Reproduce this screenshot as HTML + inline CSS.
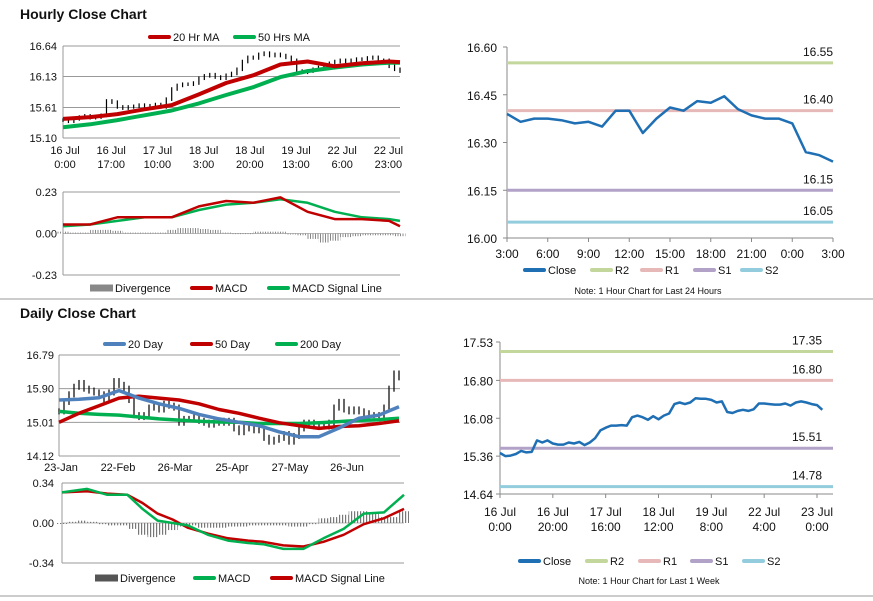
<!DOCTYPE html>
<html><head><meta charset="utf-8"><style>
body{margin:0;background:#fff;}
svg{display:block;font-family:"Liberation Sans",Arial,sans-serif;}
</style></head><body>
<svg id="c" width="873" height="601" viewBox="0 0 873 601" xmlns="http://www.w3.org/2000/svg">
<defs>
<pattern id="stripe" width="2.5" height="4" patternUnits="userSpaceOnUse"><rect x="0" y="0" width="1" height="4" fill="#888"/></pattern>
<pattern id="stripe2" width="3" height="4" patternUnits="userSpaceOnUse"><rect x="0" y="0" width="1.2" height="4" fill="#777"/></pattern>
</defs>
</svg>
<script>
// ---- Hourly close chart (left top) ----
const hCloseHours = [0,2,4,6,8,10,12,14,16,18,20,22,24,26,28,30,32,34,36,38,40,42,44,46,48,50,52,54,56,58,60,62,64,66,68,70,72,74,76,78,80,82,84,86,88,90,92,94,96,98,100,102,104,106,108,110,112,114,116,118,120,122,124];
const hClose = [15.40,15.38,15.42,15.45,15.47,15.44,15.45,15.48,15.72,15.70,15.62,15.60,15.62,15.63,15.65,15.62,15.64,15.66,15.62,15.75,15.92,15.98,16.00,16.00,16.02,16.10,16.14,16.16,16.12,16.10,16.15,16.18,16.25,16.38,16.45,16.44,16.50,16.52,16.48,16.50,16.48,16.45,16.40,16.22,16.20,16.22,16.25,16.28,16.27,16.35,16.38,16.40,16.38,16.40,16.42,16.42,16.44,16.45,16.40,16.40,16.30,16.25,16.22];
const hMaHours = [0,10,20,30,40,50,60,70,80,90,100,110,120,124];
const hMa20 = [15.42,15.45,15.50,15.58,15.65,15.83,16.02,16.15,16.33,16.38,16.30,16.35,16.38,16.37];
const hMa50 = [15.28,15.33,15.40,15.48,15.56,15.68,15.82,15.95,16.12,16.22,16.28,16.33,16.36,16.36];
const hPriceTicks = [15.10,15.61,16.13,16.64];
const hXLabels = [["16 Jul","0:00"],["16 Jul","17:00"],["17 Jul","10:00"],["18 Jul","3:00"],["18 Jul","20:00"],["19 Jul","13:00"],["22 Jul","6:00"],["22 Jul","23:00"]];
const hXLabelHours = [0,17,34,51,68,85,102,119];
const hMacd = [0.05,0.05,0.09,0.09,0.09,0.15,0.18,0.17,0.20,0.12,0.08,0.08,0.07,0.04];
const hSignal = [0.04,0.05,0.07,0.09,0.09,0.13,0.16,0.17,0.19,0.17,0.12,0.09,0.08,0.07];
const hDivHours = [0,4,8,12,16,20,24,28,32,36,40,44,48,52,56,60,64,68,72,76,80,84,88,92,96,100,104,108,112,116,120,124];
const hDiv = [0.01,0.005,0.005,0.02,0.02,0.015,0.005,0.005,0.005,0.005,0.02,0.03,0.03,0.025,0.02,0.005,0.002,0.002,0.01,0.01,0.01,0,-0.01,-0.03,-0.05,-0.04,-0.02,-0.015,-0.01,-0.01,-0.01,-0.015];
const hMacdTicks = [-0.23,0.00,0.23];

// ---- Daily close chart (left bottom) ----
const dClose = [15.30,15.55,15.75,15.95,16.05,15.90,15.85,15.80,15.75,15.60,15.80,16.10,16.00,15.90,15.60,15.20,15.15,15.20,15.40,15.45,15.35,15.50,15.45,15.40,15.00,15.10,15.10,15.15,15.05,15.00,14.95,15.00,15.05,15.00,15.05,14.85,14.75,14.90,14.85,14.80,14.80,14.60,14.50,14.55,14.60,14.70,14.50,14.65,14.85,15.00,15.00,14.90,14.95,14.90,15.00,15.40,15.55,15.35,15.30,15.35,15.30,15.25,15.20,15.20,15.20,15.40,15.90,16.30,16.20];
const dMaDays = [0,4,8,12,16,20,24,28,32,36,40,44,48,52,56,60,64,68];
const dMa20 = [15.60,15.62,15.66,15.85,15.65,15.50,15.38,15.22,15.10,15.01,14.92,14.76,14.63,14.63,14.86,15.12,15.20,15.42];
const dMa50 = [15.01,15.25,15.45,15.65,15.70,15.65,15.60,15.50,15.35,15.25,15.12,15.00,14.92,14.85,14.90,14.92,14.98,15.05];
const dMa200 = [15.30,15.25,15.22,15.20,15.15,15.10,15.07,15.04,15.02,15.01,14.98,14.98,14.98,15.00,15.03,15.06,15.08,15.12];
const dPriceTicks = [14.12,15.01,15.90,16.79];
const dXLabels = ["23-Jan","22-Feb","26-Mar","25-Apr","27-May","26-Jun"];
const dXLabelDays = [0,11.4,22.8,34.2,45.8,57.2];
const dMacdDays = [0,5,9,13,16,19,22,25,29,33,37,40,44,48,52,56,60,64,68];
const dMacd = [0.26,0.29,0.24,0.24,0.12,0.02,0.00,-0.02,-0.10,-0.15,-0.17,-0.18,-0.22,-0.22,-0.13,-0.05,0.08,0.09,0.24];
const dSignal = [0.26,0.27,0.25,0.24,0.17,0.08,0.03,-0.04,-0.09,-0.13,-0.15,-0.16,-0.19,-0.20,-0.16,-0.10,-0.01,0.04,0.12];
const dDiv = [0.0,0.01,0.02,0.01,-0.01,-0.02,-0.02,-0.05,-0.10,-0.12,-0.10,-0.06,-0.03,-0.02,-0.04,-0.04,-0.04,-0.03,-0.03,-0.02,-0.02,-0.02,-0.02,-0.03,-0.03,-0.01,0.04,0.05,0.07,0.10,0.10,0.08,0.05,0.05,0.10];
const dMacdTicks = [-0.34,0.00,0.34];

// ---- 24h chart (right top) ----
const tClose = [16.39,16.365,16.375,16.375,16.37,16.36,16.365,16.35,16.40,16.40,16.33,16.375,16.41,16.40,16.43,16.425,16.445,16.405,16.385,16.375,16.375,16.36,16.27,16.26,16.24];
const tLevels = [16.55,16.40,16.15,16.05];
const tLevelNames = ["R2","R1","S1","S2"];
const tYTicks = [16.00,16.15,16.30,16.45,16.60];
const tXLabels = ["3:00","6:00","9:00","12:00","15:00","18:00","21:00","0:00","3:00"];

// ---- 1 week chart (right bottom) ----
const wClose = [15.42,15.36,15.37,15.40,15.46,15.43,15.44,15.66,15.62,15.66,15.60,15.58,15.58,15.62,15.60,15.63,15.57,15.62,15.70,15.85,15.90,15.94,15.94,15.95,15.94,16.10,16.13,16.10,16.05,16.12,16.06,16.13,16.17,16.35,16.38,16.35,16.38,16.46,16.45,16.45,16.43,16.38,16.40,16.20,16.18,16.22,16.24,16.22,16.25,16.36,16.36,16.35,16.34,16.34,16.36,16.32,16.38,16.40,16.38,16.35,16.33,16.24];
const wLevels = [17.35,16.80,15.51,14.78];
const wYTicks = [14.64,15.36,16.08,16.80,17.53];
const wXLabels = [["16 Jul","0:00"],["16 Jul","20:00"],["17 Jul","16:00"],["18 Jul","12:00"],["19 Jul","8:00"],["22 Jul","4:00"],["23 Jul","0:00"]];

const levelColors = ["#c3d69b","#e6b9b8","#b3a2c7","#93cddd"];
const NS = "http://www.w3.org/2000/svg";
const svg = document.getElementById("c");
function lin(d0,d1,r0,r1){return v=>r0+(v-d0)*(r1-r0)/(d1-d0);}
function mk(tag,attrs,parent){const e=document.createElementNS(NS,tag);for(const k in attrs)e.setAttribute(k,attrs[k]);(parent||svg).appendChild(e);return e;}
function txt(x,y,s,size,anchor,weight,name){const t=mk("text",{x:x,y:y,"font-size":size,"text-anchor":anchor||"start","font-weight":weight||"normal",fill:"#111"});t.textContent=s;


return t;}
function poly(xs,ys,X,Y,color,w,name){const pts=xs.map((v,i)=>X(v).toFixed(1)+","+Y(ys[i]).toFixed(1)).join(" ");const p=mk("polyline",{points:pts,fill:"none",stroke:color,"stroke-width":w,"stroke-linejoin":"round"});


return p;}
function hline(x1,x2,y,color,w,name){const l=mk("line",{x1:x1,x2:x2,y1:y,y2:y,stroke:color,"stroke-width":w});


return l;}
function vline(x,y1,y2,color,w,name){const l=mk("line",{x1:x,x2:x,y1:y1,y2:y2,stroke:color,"stroke-width":w});


return l;}
function legend(x,y,color,label,h){const l=mk("rect",{x:x,y:y-(h||4)/2,width:23,height:h||4,fill:color,rx:h?0:2});


txt(x+25,y+4,label,11,"start","normal",'legend-label-'+label.toLowerCase().replace(/ /g,'-'));}

// separators
hline(0,873,299,"#999",1,"section-separator");
hline(0,873,596,"#999",1,"bottom-separator");

// titles
txt(20,19,"Hourly Close Chart",14,"start","bold","hourly-title");
txt(20,318,"Daily Close Chart",14,"start","bold","daily-title");

// ===== Hourly price =====
{
const X=lin(0,124,63,400), Y=lin(15.10,16.64,138,46);
hPriceTicks.forEach(v=>{hline(63,400,Y(v),"#999",1,"y-gridline");txt(57,Y(v)+4,v.toFixed(2),11,"end","normal","y-tick-label");});
vline(63,46,138,"#999",1,"y-axis");
hXLabelHours.forEach((h,i)=>{txt(X(h)+2,154,hXLabels[i][0],11,"middle","normal","x-tick-label");txt(X(h)+2,168,hXLabels[i][1],11,"middle","normal","x-tick-label");});
hClose.forEach((v,i)=>{const p=i?hClose[i-1]:v;const lo=Math.min(p,v)-0.03,hi=Math.max(p,v)+0.03;vline(X(hCloseHours[i]),Y(hi),Y(lo),"#000",1.2,"price-bar");});
poly(hMaHours,hMa50,X,Y,"#00b050",4,"ma50-line");
poly(hMaHours,hMa20,X,Y,"#c00000",4,"ma20-line");
legend(148,37,"#c00000","20 Hr MA");
legend(233,37,"#00b050","50 Hrs MA");
}
// ===== Hourly MACD =====
{
const X=lin(0,124,63,400), Y=lin(-0.23,0.23,275,192);
hMacdTicks.forEach(v=>{hline(63,400,Y(v),v===0?"#bbb":"#999",1,"macd-gridline");txt(57,Y(v)+4,v.toFixed(2),11,"end","normal","macd-y-tick");});
vline(63,192,275,"#999",1,"macd-y-axis");
hDiv.forEach((v,i)=>{const y0=Y(0),y1=Y(v);const r=mk("rect",{x:X(hDivHours[i])-5.5,y:Math.min(y0,y1),width:11,height:Math.max(1,Math.abs(y1-y0)),fill:"url(#stripe)"});

});
poly(hMaHours,hSignal,X,Y,"#00b050",2.5,"macd-signal-line");
poly(hMaHours,hMacd,X,Y,"#c00000",2.5,"macd-line");
legend(90,288,"#888","Divergence",7);
legend(190,288,"#c00000","MACD");
legend(267,288,"#00b050","MACD Signal Line");
}
// ===== Daily price =====
{
const X=lin(0,68,59,399), Y=lin(14.12,16.79,456,355);
dPriceTicks.forEach(v=>{hline(59,400,Y(v),"#999",1,"y-gridline");txt(54,Y(v)+4,v.toFixed(2),11,"end","normal","y-tick-label");});
vline(59,355,456,"#999",1,"y-axis");
dXLabelDays.forEach((d,i)=>txt(X(d)+2,471,dXLabels[i],11,"middle","normal","x-tick-label"));
dClose.forEach((v,i)=>{const p=i?dClose[i-1]:v;const lo=Math.min(p,v)-0.08,hi=Math.max(p,v)+0.08;vline(X(i),Y(hi),Y(lo),"#000",1.2,"price-bar");});
poly(dMaDays,dMa200,X,Y,"#00b050",3.5,"ma200-line");
poly(dMaDays,dMa50,X,Y,"#c00000",3.5,"ma50-line");
poly(dMaDays,dMa20,X,Y,"#4f81bd",3.5,"ma20-line");
legend(103,344,"#4f81bd","20 Day");
legend(190,344,"#c00000","50 Day");
legend(275,344,"#00b050","200 Day");
}
// ===== Daily MACD =====
{
const X=lin(0,68,62,404), Y=lin(-0.34,0.34,563,483);
dMacdTicks.forEach(v=>{hline(62,404,Y(v),v===0?"#bbb":"#999",1,"macd-gridline");txt(54,Y(v)+4,v.toFixed(2),11,"end","normal","macd-y-tick");});
vline(62,483,563,"#999",1,"macd-y-axis");
dDiv.forEach((v,i)=>{const y0=Y(0),y1=Y(v);const r=mk("rect",{x:X(i*2)-5,y:Math.min(y0,y1),width:10,height:Math.max(1,Math.abs(y1-y0)),fill:"url(#stripe2)"});

});
poly(dMacdDays,dSignal,X,Y,"#c00000",2.5,"macd-signal-line");
poly(dMacdDays,dMacd,X,Y,"#00b050",2.5,"macd-line");
legend(95,578,"#555","Divergence",7);
legend(193,578,"#00b050","MACD");
legend(270,578,"#c00000","MACD Signal Line");
}
// ===== 24h chart =====
{
const X=lin(0,24,507,833), Y=lin(16.00,16.60,238,47);
vline(507,47,238,"#888",1,"y-axis");
hline(507,833,238,"#888",1,"x-axis");
tYTicks.forEach(v=>{hline(503,507,Y(v),"#888",1,"y-tick");txt(497,Y(v)+5,v.toFixed(2),12,"end","normal","y-tick-label");});
tXLabels.forEach((s,i)=>{vline(X(i*3),238,242,"#888",1,"x-tick");txt(X(i*3),258,s,12,"middle","normal","x-tick-label");});
tLevels.forEach((v,i)=>{hline(507,833,Y(v),levelColors[i],3,"level-"+tLevelNames[i].toLowerCase());txt(833,Y(v)-7,v.toFixed(2),12,"end","normal","level-label-"+tLevelNames[i].toLowerCase());});
poly(tClose.map((v,i)=>i),tClose,X,Y,"#1f6fb4",2.5,"close-line");
legend(523,270,"#1f6fb4","Close");
legend(590,270,"#c3d69b","R2");
legend(640,270,"#e6b9b8","R1");
legend(693,270,"#b3a2c7","S1");
legend(740,270,"#93cddd","S2");
txt(648,294,"Note: 1 Hour Chart for Last 24 Hours",9,"middle","normal","chart-note");
}
// ===== 1 week chart =====
{
const X=lin(0,120,500,817), Y=lin(14.64,17.53,494,342);
vline(500,342,494,"#888",1,"y-axis");
hline(500,833,494,"#888",1,"x-axis");
wYTicks.forEach(v=>{hline(496,500,Y(v),"#888",1,"y-tick");txt(493,Y(v)+5,v.toFixed(2),12,"end","normal","y-tick-label");});
wXLabels.forEach((s,i)=>{vline(X(i*20),494,498,"#888",1,"x-tick");txt(X(i*20),516,s[0],12,"middle","normal","x-tick-label");txt(X(i*20),531,s[1],12,"middle","normal","x-tick-label");});
wLevels.forEach((v,i)=>{hline(500,833,Y(v),levelColors[i],3,"level-"+tLevelNames[i].toLowerCase());txt(822,Y(v)-7,v.toFixed(2),12,"end","normal","level-label-"+tLevelNames[i].toLowerCase());});
poly(wClose.map((v,i)=>i*2),wClose,X,Y,"#1f6fb4",2.5,"close-line");
legend(518,561,"#1f6fb4","Close");
legend(585,561,"#c3d69b","R2");
legend(638,561,"#e6b9b8","R1");
legend(690,561,"#b3a2c7","S1");
legend(742,561,"#93cddd","S2");
txt(649,584,"Note: 1 Hour Chart for Last 1 Week",9,"middle","normal","chart-note");
}
</script>
</body></html>
